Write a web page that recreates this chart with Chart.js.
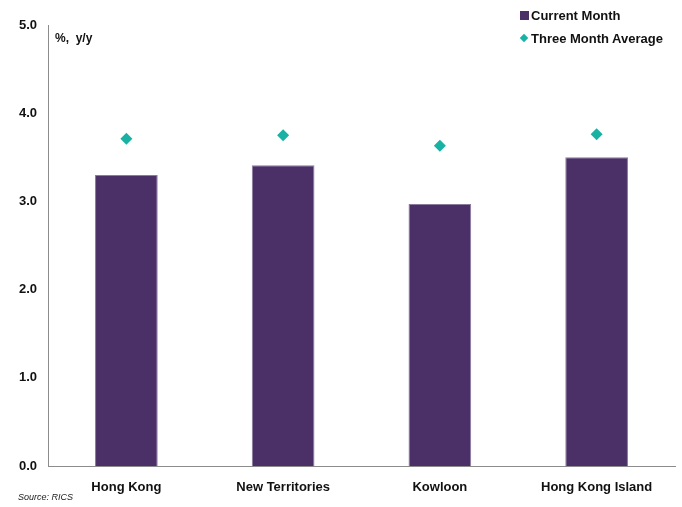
<!DOCTYPE html>
<html>
<head>
<meta charset="utf-8">
<script src="https://cdn.jsdelivr.net/npm/chart.js@4"></script>
<style>
  body { margin: 0; background: #fff; }
  #wrap { position: relative; width: 682px; height: 507px; font-family: "Liberation Sans", Arial, sans-serif; }
  .lbl { position: absolute; font-weight: bold; font-size: 13px; color: #111; white-space: nowrap; }
  .sq { position: absolute; width: 9px; height: 9px; background: #4B3068; }
  .dia { position: absolute; width: 6px; height: 6px; background: #17B2A4; transform: rotate(45deg); }
  #source { position: absolute; left: 18px; top: 492px; font-size: 9px; font-style: italic; color: #222;
            font-family: "Liberation Sans Narrow", "Liberation Sans", Arial, sans-serif; }
</style>
</head>
<body>
<div id="wrap">
  <canvas id="chart" width="682" height="507"></canvas>
  <div class="sq" style="left:520px; top:11px;"></div>
  <div class="lbl" style="left:531px; top:8px;">Current Month</div>
  <div class="dia" style="left:521px; top:35px;"></div>
  <div class="lbl" style="left:531px; top:31px;">Three Month Average</div>
  <div class="lbl" style="left:55px; top:31px; font-size:12px;">%, &nbsp;y/y</div>
  <div id="source">Source: RICS</div>
</div>
<script>
// chart data
var categories = ['Hong Kong', 'New Territories', 'Kowloon', 'Hong Kong Island'];
var currentMonth = [3.30, 3.41, 2.97, 3.50];
var threeMonthAvg = [3.71, 3.75, 3.63, 3.76];
var yTicks = [0, 1, 2, 3, 4, 5];

var ctx = document.getElementById('chart').getContext('2d');

window.myChart = new Chart(ctx, {
    type: 'bar',
    data: {
        labels: categories,
        datasets: [
            {
                type: 'line',
                label: 'Three Month Average',
                data: threeMonthAvg,
                showLine: false,
                pointStyle: 'rectRot',
                pointRadius: 6,
                backgroundColor: '#17B2A4',
                borderColor: '#17B2A4',
                borderWidth: 0
            },
            {
                label: 'Current Month',
                data: currentMonth,
                backgroundColor: '#4B3068',
                borderColor: '#8A7A9E',
                borderWidth: 1,
                categoryPercentage: 0.4,
                barPercentage: 1
            }
        ]
    },
    options: {
        responsive: false,
        animation: false,
        layout: {
            padding: { top: 25, right: 7, left: 0, bottom: 0 }
        },
        plugins: {
            legend: { display: false },
            tooltip: { enabled: false }
        },
        scales: {
            x: {
                grid: { display: false, drawTicks: false },
                border: { display: true, color: '#8c8c8c', width: 1 },
                ticks: {
                    padding: 14,
                    color: '#111',
                    font: { family: 'Liberation Sans', size: 13, weight: 'bold' }
                },
                afterFit: function(scale) { scale.height = 41; }
            },
            y: {
                min: 0,
                max: 5,
                afterBuildTicks: function(scale) {
                    scale.ticks = yTicks.map(function(v) { return { value: v }; });
                },
                grid: { display: false, drawTicks: false },
                border: { display: true, color: '#8c8c8c', width: 1 },
                ticks: {
                    padding: 11,
                    color: '#111',
                    font: { family: 'Liberation Sans', size: 13, weight: 'bold' },
                    callback: function(v) { return Number(v).toFixed(1); }
                },
                afterFit: function(scale) { scale.width = 48; }
            }
        }
    }
});
</script>
</body>
</html>
